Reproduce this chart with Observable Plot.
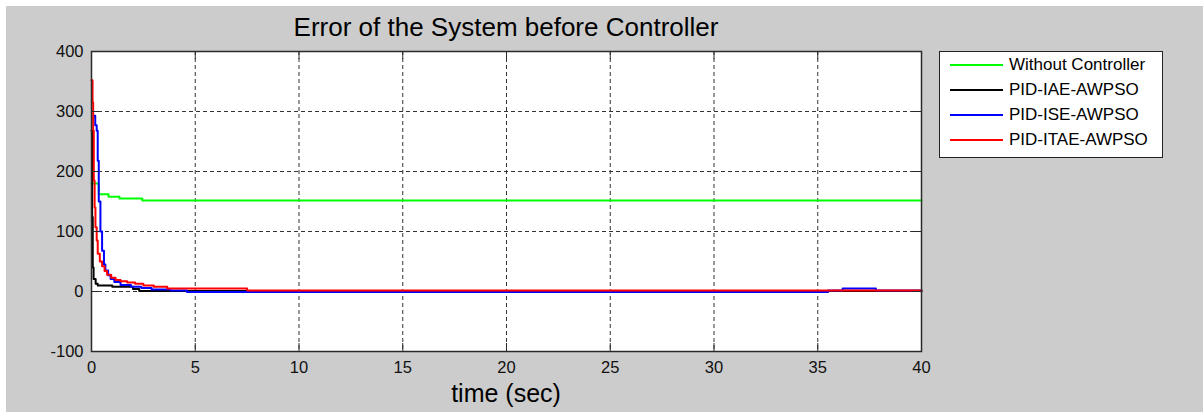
<!DOCTYPE html>
<html><head><meta charset="utf-8">
<script src="https://cdn.jsdelivr.net/npm/d3@7"></script>
<script src="https://cdn.jsdelivr.net/npm/@observablehq/plot@0.6"></script>
<style>
html,body{margin:0;padding:0;background:#fff;width:1203px;height:412px;overflow:hidden;font-family:"Liberation Sans",Arial,sans-serif;}
#bg{position:absolute;left:6px;top:6px;width:1197px;height:406px;background:#cccccc;}
#chart{position:absolute;left:0;top:0;}
#title{position:absolute;left:91px;width:830px;top:12px;text-align:center;font-size:26px;line-height:30px;color:#000;white-space:nowrap;}
#xlabel{position:absolute;left:91px;width:830px;top:378px;text-align:center;font-size:25px;line-height:30px;color:#000;white-space:nowrap;}
#legend{position:absolute;left:939px;top:51px;width:224px;height:107px;box-sizing:border-box;border:1px solid #222;background:#fff;}
.lg-line{position:absolute;left:950px;width:53px;height:2px;}
.lg-text{position:absolute;left:1009px;font-size:17px;line-height:20px;color:#000;white-space:nowrap;}
</style>
</head><body>
<div id="bg"></div>
<div id="chart"></div>
<div id="title"></div>
<div id="xlabel"></div>
<div id="legend"></div>
<div id="legend-items"></div>
<script>
const titleText = "Error of the System before Controller";
const xLabelText = "time (sec)";
const xTicks = [0, 5, 10, 15, 20, 25, 30, 35, 40];
const yTicks = [-100, 0, 100, 200, 300, 400];

const seriesNames = ["Without Controller", "PID-IAE-AWPSO", "PID-ISE-AWPSO", "PID-ITAE-AWPSO"];
const seriesColors = ["#00ff00", "#000000", "#0000ff", "#ff0000"];

const greenT = [0, 0.35, 0.82, 1.35, 2.45, 40];
const greenV = [180, 162, 158, 155, 151.5, 151.5];

const blackT = [0, 0.03, 0.06, 0.1, 0.2, 0.3, 1.0, 2.0, 2.3, 40];
const blackV = [268, 124, 40, 21, 13, 10, 8, 4, 1, 0];

const blueT = [0.1, 0.18, 0.25, 0.3, 0.35, 0.43, 0.51, 0.6, 0.67, 0.8, 0.92, 1.1, 1.4, 1.9, 2.4, 2.9, 3.8, 4.6, 35.5, 36.2, 37.8, 40];
const blueV = [293, 277, 268, 218, 150, 100, 68, 45, 35, 27, 21, 16, 11, 8, 6, 3.5, 1.7, -1, 1.5, 5, 1.5, 1.5];

const redT = [0, 0.05, 0.08, 0.11, 0.15, 0.19, 0.25, 0.3, 0.4, 0.51, 0.63, 0.75, 0.95, 1.16, 1.4, 1.72, 2.1, 2.5, 3.0, 3.65, 7.5, 40];
const redV = [352, 315, 268, 185, 140, 107, 85, 63, 50, 42, 34, 28, 23, 19, 17, 15, 13, 10, 8, 5, 1.5, 1.5];

const seriesT = [greenT, blackT, blueT, redT];
const seriesV = [greenV, blackV, blueV, redV];

const rows = [];
seriesNames.forEach((name, s) => {
  seriesT[s].forEach((t, i) => rows.push({series: name, t, v: seriesV[s][i]}));
});

const W = 1203, H = 412;
const mL = 91, mR = 282, mT = 51, mB = 61;
const plotW = W - mL - mR, plotH = H - mT - mB;
const tickLen = 8;
const axisColor = "#2a2a2a";

const lineMarks = seriesNames.map((name, s) =>
  Plot.line(rows.filter(r => r.series === name), {
    x: "t", y: "v", stroke: seriesColors[s], strokeWidth: 2, curve: "step-after"
  })
);

const chart = Plot.plot({
  width: W, height: H,
  marginLeft: mL, marginRight: mR, marginTop: mT, marginBottom: mB,
  x: {domain: [0, 40]},
  y: {domain: [-100, 400]},
  style: {background: "transparent", fontFamily: "'Liberation Sans', Arial, sans-serif", fontSize: "16.5px", color: "#111", overflow: "visible"},
  marks: [
    Plot.frame({fill: "white", stroke: null}),
    Plot.gridX(xTicks, {stroke: "#333", strokeOpacity: 1, strokeDasharray: "4,3"}),
    Plot.gridY(yTicks, {stroke: "#333", strokeOpacity: 1, strokeDasharray: "4,3"}),
    ...lineMarks,
    Plot.tickX(xTicks, {x: d => d, insetTop: plotH - tickLen, stroke: axisColor}),
    Plot.tickX(xTicks, {x: d => d, insetBottom: plotH - tickLen, stroke: axisColor}),
    Plot.tickY(yTicks, {y: d => d, insetRight: plotW - tickLen, stroke: axisColor}),
    Plot.tickY(yTicks, {y: d => d, insetLeft: plotW - tickLen, stroke: axisColor}),
    Plot.frame({stroke: axisColor, strokeWidth: 1.5}),
    Plot.axisX(xTicks, {tickSize: 0, tickPadding: 10, label: null, tickFormat: d => String(d), fontSize: 16.5, fill: "#111"}),
    Plot.axisY(yTicks, {tickSize: 0, tickPadding: 8, label: null, tickFormat: d => String(d), fontSize: 16.5, fill: "#111"})
  ]
});
document.getElementById("chart").appendChild(chart);
document.getElementById("title").textContent = titleText;
document.getElementById("xlabel").textContent = xLabelText;

const legendItems = document.getElementById("legend-items");
const legendY0 = 64.5, legendStep = 25;
seriesNames.forEach((name, i) => {
  const cy = legendY0 + i * legendStep;
  const ln = document.createElement("div");
  ln.className = "lg-line";
  ln.style.top = (cy - 1) + "px";
  ln.style.background = seriesColors[i];
  legendItems.appendChild(ln);
  const tx = document.createElement("div");
  tx.className = "lg-text";
  tx.style.top = (cy - 10) + "px";
  tx.textContent = name;
  legendItems.appendChild(tx);
});
</script>
</body></html>
